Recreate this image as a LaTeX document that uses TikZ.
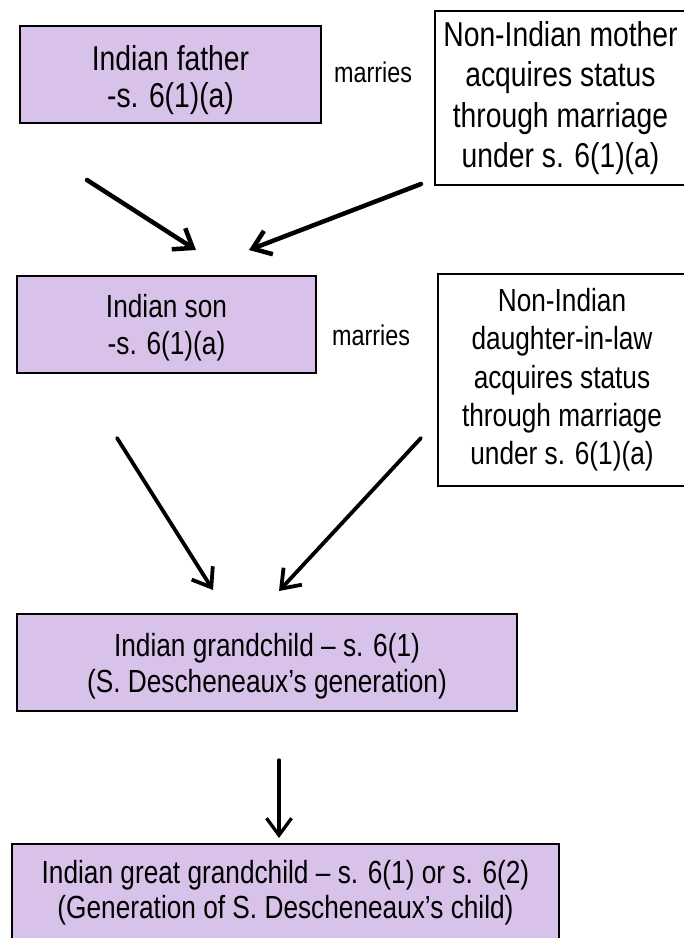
\documentclass[tikz,border=0pt]{standalone}
\usepackage{fontspec}
\setmainfont[FakeStretch=0.82]{Liberation Sans}
\usetikzlibrary{arrows.meta}
\definecolor{lilac}{RGB}{217,194,233}
\begin{document}
\begin{tikzpicture}
[x=1pt, y=-1pt,
  indiandecorate/.style={shape=rectangle,draw,line width=1.6pt,fill=lilac,
    align=center,inner sep=0pt},%
  spousedecorate/.style={shape=rectangle,draw,line width=1.6pt,fill=white,
    align=center,inner sep=0pt},%
  linedecorate/.style={-{Straight Barb[length=17pt,width=25pt]},
    line width=4.5pt,line cap=round,line join=round}]
\clip (0,0) rectangle (684,938);
%% generations
\node (father) at (170.5,74.5) [indiandecorate,minimum width=301pt,minimum height=97pt,
  text height=74pt,font=\fontsize{34.5}{37}\selectfont] {Indian father\\-s. 6(1)(a)};
\node (mother) at (560.5,98) [spousedecorate,minimum width=251pt,minimum height=174pt,
  font=\fontsize{34.5}{40.5}\selectfont]
  {Non-Indian mother\\acquires status\\through marriage\\under s. 6(1)(a)};
\node (son) at (166.5,324.5) [indiandecorate,minimum width=299pt,minimum height=97pt,
  text height=67pt,font=\fontsize{32}{37}\selectfont] {Indian son\\-s. 6(1)(a)};
\node (daughter) at (562,380) [spousedecorate,minimum width=248pt,minimum height=212pt,
  font=\fontsize{32}{38.3}\selectfont]
  {Non-Indian\\daughter-in-law\\acquires status\\through marriage\\under s. 6(1)(a)};
\node (grandchild) at (267,662.5) [indiandecorate,minimum width=500pt,minimum height=97pt,
  text height=66pt,font=\fontsize{32}{36}\selectfont]
  {Indian grandchild -- s. 6(1)\\(S. Descheneaux’s generation)};
\node (greatgrandchild) at (285.5,893) [indiandecorate,minimum width=547pt,minimum height=98pt,
  font=\fontsize{32}{35}\selectfont]
  {Indian great grandchild -- s. 6(1) or s. 6(2)\\(Generation of S. Descheneaux’s child)};
\foreach \nodename/\x/\y in {marriesa/373/72, marriesb/371/335}
{
  \node (\nodename) at (\x,\y) [font=\fontsize{28.5}{32}\selectfont] {marries};
}
%% arrow ends
\foreach \nodename/\x/\y in {fa/87/180, fb/196/250, ma/421/184, mb/249/250,
  sa/117/438, sb/213/590, da/421/438, db/279/591, ga/279/760, gb/279/838}
{
  \coordinate (\nodename) at (\x,\y);
}
%% descent
\path
\foreach \startnode/\endnode in {fa/fb, ma/mb} {
  (\startnode) edge[linedecorate] (\endnode)
};
\path
\foreach \startnode/\endnode in {sa/sb, da/db} {
  (\startnode) edge[linedecorate,line width=3.8pt] (\endnode)
};
\path (ga) edge[linedecorate,line width=3.3pt] (gb);
\end{tikzpicture}
\end{document}
